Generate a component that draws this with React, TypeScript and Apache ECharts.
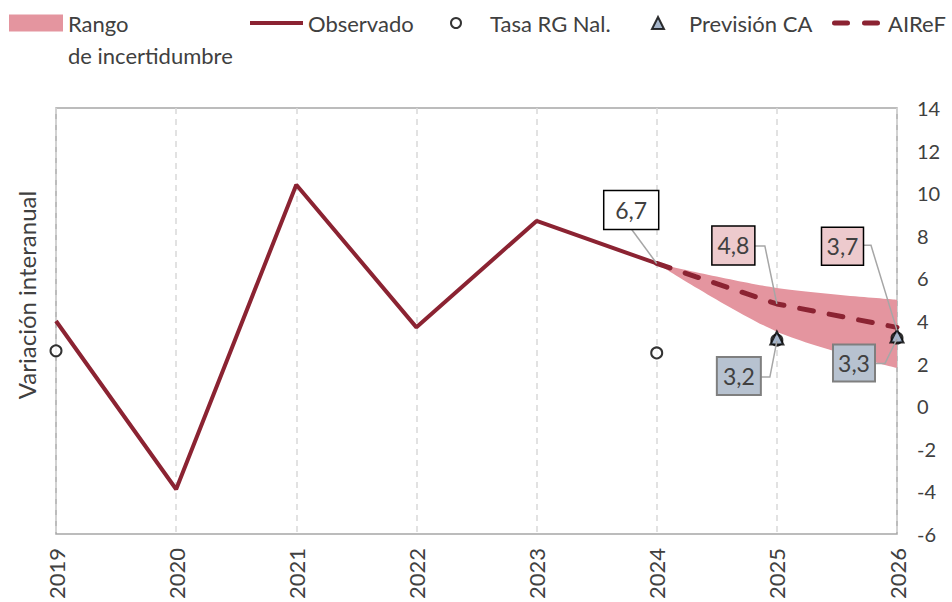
import React, { useEffect, useRef } from "react";
import * as echarts from "echarts";

// ---------- data ----------
const years = ["2019", "2020", "2021", "2022", "2023", "2024", "2025", "2026"];
const observado = [4.0, -3.9, 10.4, 3.7, 8.7, 6.7, "-", "-"];
const airef = ["-", "-", "-", "-", "-", 6.7, 4.8, 3.7];
const rangoInferior = ["-", "-", "-", "-", "-", 6.7, 3.5, 1.8];
const rangoSuperior = ["-", "-", "-", "-", "-", 6.7, 5.55, 5.0];
const tasaRG = [2.6, "-", "-", "-", "-", 2.5, 3.1, 3.2];
const prevCA = ["-", "-", "-", "-", "-", "-", 3.2, 3.3];
const yMin = -6;
const yMax = 14;
const yInterval = 2;

// labelled values: [category index, value, box style]
const annotations: [number, number, string][] = [
  [5, 6.7, "white"],
  [6, 4.8, "pink"],
  [7, 3.7, "pink"],
  [6, 3.2, "blue"],
  [7, 3.3, "blue"],
];

// ---------- styles / layout ----------
const DARK = "#8B2332";
const PINK = "#E4959F";
const TEXT = "#404040";
const FONT = "Lato, 'Noto Sans', sans-serif";

const boxStyles: Record<string, { fill: string; stroke: string; lw: number }> = {
  white: { fill: "#FFFFFF", stroke: "#000000", lw: 1.5 },
  pink: { fill: "#EDCACD", stroke: "#000000", lw: 1.5 },
  blue: { fill: "#B7C2D0", stroke: "#7F7F7F", lw: 2 },
};

// offsets of each label box / leader line relative to its anchor point
const annotLayout = [
  { dx: -25.5, dy: -53.5, w: 55, h: 39, line: [[-25, -34], [0, 0]] },
  { dx: -43.5, dy: -58.5, w: 43, h: 39, line: [[-22, -58], [-12, -58], [0, 0]] },
  { dx: -54.5, dy: -81, w: 42, h: 38, line: [[-34, -82], [-26, -82], [0, 3]] },
  { dx: -38, dy: 38, w: 44, h: 38, line: [[-16, 39], [-7, 39], [0, 3]] },
  { dx: -43, dy: 27, w: 42, h: 37, line: [[-22, 27.5], [-12, 27.5], [0, 3]] },
];

const fmt = (v: number) => v.toFixed(1).replace(".", ",");

export default function App() {
  const ref = useRef<HTMLDivElement>(null);

  useEffect(() => {
    document.body.style.margin = "0";
    const chart = echarts.init(ref.current!, null, { renderer: "svg" });

    const bandDiff = rangoSuperior.map((u, i) => {
      const l = rangoInferior[i];
      return typeof u === "number" && typeof l === "number" ? +(u - l).toFixed(3) : "-";
    });

    const legendText = { color: TEXT, fontSize: 22, fontFamily: FONT };
    const LEG_TOP = 12;

    const option: any = {
      animation: false,
      grid: {
        left: 56,
        right: 55,
        top: 108,
        bottom: 66,
        show: true,
        borderColor: "#A6A6A6",
        borderWidth: 1.5,
        containLabel: false,
      },
      legend: [
        {
          data: [{ name: "Rango de incertidumbre", icon: "rect", itemStyle: { color: PINK } }],
          left: 9,
          top: LEG_TOP,
          padding: 0,
          itemWidth: 54,
          itemHeight: 17,
          selectedMode: false,
          formatter: () => "Rango",
          textStyle: legendText,
        },
        {
          data: [{ name: "Observado", icon: "rect", itemStyle: { color: DARK, opacity: 1 } }],
          left: 250,
          top: LEG_TOP,
          padding: 0,
          itemWidth: 53,
          itemHeight: 4,
          selectedMode: false,
          textStyle: legendText,
        },
        {
          data: [
            {
              name: "Tasa RG Nal.",
              icon: "circle",
              itemStyle: { color: "#FFFFFF", borderColor: "#000000", borderWidth: 2 },
            },
          ],
          left: 450,
          top: LEG_TOP,
          padding: 0,
          itemWidth: 10,
          itemHeight: 10,
          selectedMode: false,
          textStyle: { ...legendText, padding: [0, 0, 0, 24] },
        },
        {
          data: [
            {
              name: "Previsión CA",
              icon: "triangle",
              itemStyle: { color: "#8EA3BD", borderColor: "#000000", borderWidth: 2 },
            },
          ],
          left: 651,
          top: LEG_TOP,
          padding: 0,
          itemWidth: 12,
          itemHeight: 12,
          selectedMode: false,
          textStyle: { ...legendText, padding: [0, 0, 0, 20] },
        },
        {
          data: [
            {
              name: "AIReF",
              icon: "path://M2.5,0H15.5A2.5,2.5 0 0 1 15.5,5H2.5A2.5,2.5 0 0 1 2.5,0Z M32.5,0H45.5A2.5,2.5 0 0 1 45.5,5H32.5A2.5,2.5 0 0 1 32.5,0Z",
              itemStyle: { color: DARK, opacity: 1 },
            },
          ],
          left: 832,
          top: LEG_TOP,
          padding: 0,
          itemWidth: 48,
          itemHeight: 5,
          selectedMode: false,
          textStyle: { ...legendText, padding: [0, 0, 0, 3] },
        },
      ],
      xAxis: {
        type: "category",
        data: years,
        boundaryGap: false,
        axisLine: { show: false },
        axisTick: { show: false },
        axisLabel: {
          rotate: 90,
          margin: 14,
          interval: 0,
          color: TEXT,
          fontSize: 22,
          fontFamily: FONT,
        },
        splitLine: {
          show: true,
          interval: 0,
          lineStyle: { color: "#D9D9D9", type: [6, 5], width: 1.5 },
        },
      },
      yAxis: {
        type: "value",
        position: "right",
        min: yMin,
        max: yMax,
        interval: yInterval,
        axisLine: { show: false },
        axisTick: { show: false },
        splitLine: { show: false },
        axisLabel: { margin: 20, color: TEXT, fontSize: 20, fontFamily: FONT },
      },
      series: [
        {
          name: "rango_base",
          type: "line",
          stack: "band",
          data: rangoInferior,
          symbol: "none",
          smooth: 0.3,
          lineStyle: { opacity: 0 },
          silent: true,
          z: 1,
        },
        {
          name: "Rango de incertidumbre",
          type: "line",
          stack: "band",
          data: bandDiff,
          symbol: "none",
          smooth: 0.3,
          lineStyle: { opacity: 0 },
          areaStyle: { color: PINK, opacity: 1 },
          itemStyle: { color: PINK },
          silent: true,
          z: 1,
        },
        {
          name: "Observado",
          type: "line",
          data: observado,
          symbol: "none",
          lineStyle: { color: DARK, width: 4 },
          itemStyle: { color: DARK },
          z: 3,
        },
        {
          name: "AIReF",
          type: "line",
          data: airef,
          symbol: "none",
          lineStyle: { color: DARK, width: 5, type: [14, 16], cap: "round" },
          itemStyle: { color: DARK },
          z: 3,
        },
        {
          name: "Tasa RG Nal.",
          type: "scatter",
          data: tasaRG,
          symbol: "circle",
          symbolSize: 11,
          itemStyle: { color: "#FFFFFF", borderColor: "#000000", borderWidth: 2 },
          z: 4,
        },
        {
          name: "Previsión CA",
          type: "scatter",
          data: prevCA,
          symbol: "triangle",
          symbolSize: 13,
          itemStyle: { color: "#8EA3BD", borderColor: "#000000", borderWidth: 2 },
          z: 5,
        },
      ],
    };

    chart.setOption(option);

    // ---------- annotations built from the chart's own scales ----------
    const graphics: any[] = [];
    annotations.forEach(([ci, v, kind], i) => {
      const p = chart.convertToPixel({ xAxisIndex: 0, yAxisIndex: 0 }, [ci, v]) as number[];
      const L = annotLayout[i];
      const s = boxStyles[kind];
      graphics.push({
        type: "polyline",
        z: 100,
        silent: true,
        shape: { points: L.line.map(([dx, dy]) => [p[0] + dx, p[1] + dy]) },
        style: { stroke: "#A6A6A6", lineWidth: 1.5, fill: null },
      });
      graphics.push({
        type: "rect",
        z: 101,
        silent: true,
        shape: { x: p[0] + L.dx - L.w / 2, y: p[1] + L.dy - L.h / 2, width: L.w, height: L.h },
        style: { fill: s.fill, stroke: s.stroke, lineWidth: s.lw },
      });
      graphics.push({
        type: "text",
        z: 102,
        silent: true,
        x: p[0] + L.dx,
        y: p[1] + L.dy,
        style: {
          text: fmt(v),
          fill: TEXT,
          fontSize: 23,
          fontFamily: FONT,
          align: "center",
          verticalAlign: "middle",
        },
      });
    });
    graphics.push({
      type: "text",
      x: 68,
      y: 55,
      silent: true,
      style: {
        text: "de incertidumbre",
        fill: TEXT,
        fontSize: 22,
        fontFamily: FONT,
        align: "left",
        verticalAlign: "middle",
      },
    });
    graphics.push({
      type: "text",
      x: 26,
      y: 295,
      rotation: Math.PI / 2,
      silent: true,
      style: {
        text: "Variación interanual",
        fill: TEXT,
        fontSize: 24,
        fontFamily: FONT,
        align: "center",
        verticalAlign: "middle",
      },
    });
    chart.setOption({ graphic: graphics });

    return () => chart.dispose();
  }, []);

  return (
    <div
      ref={ref}
      style={{ position: "fixed", left: 0, top: 0, width: 952, height: 602, background: "#fff" }}
    />
  );
}
